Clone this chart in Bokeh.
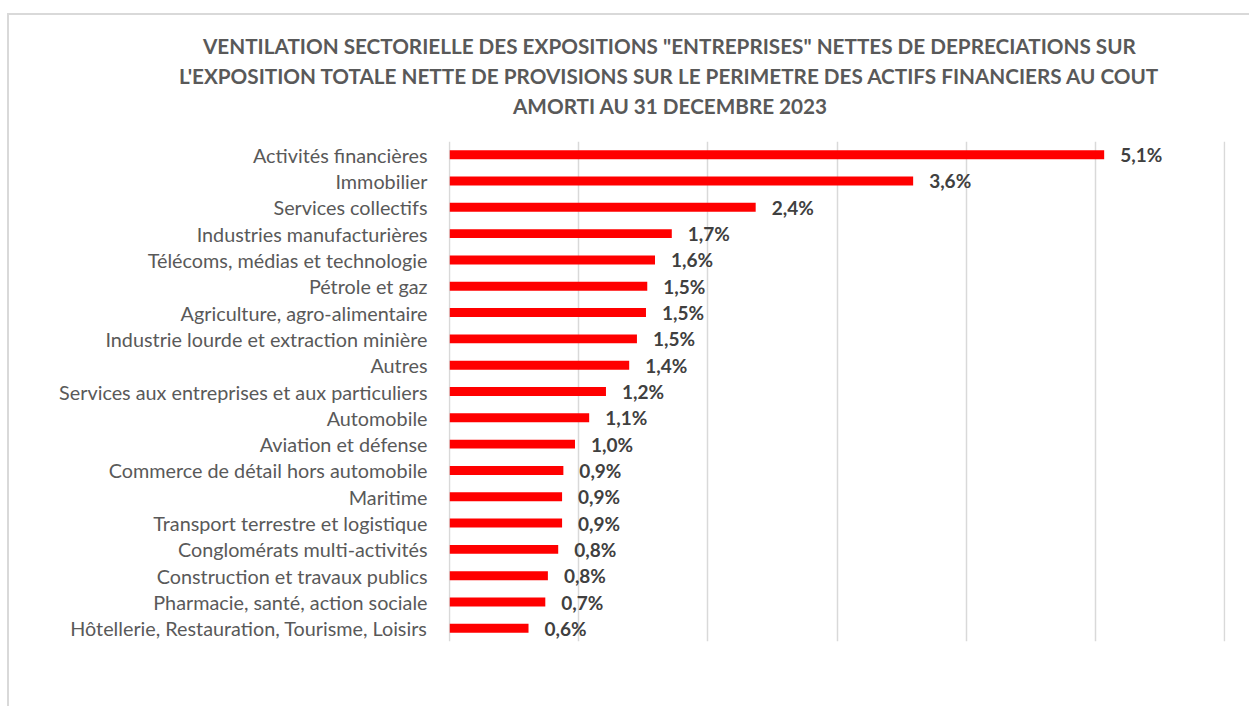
from bokeh.plotting import figure
from bokeh.models import FactorRange, Range1d, FixedTicker, Title, ColumnDataSource
from bokeh.core.properties import value
from bokeh.embed import file_html
from bokeh.resources import INLINE

categories = [
    "Activités financières",
    "Immobilier",
    "Services collectifs",
    "Industries manufacturières",
    "Télécoms, médias et technologie",
    "Pétrole et gaz",
    "Agriculture, agro-alimentaire",
    "Industrie lourde et extraction minière",
    "Autres",
    "Services aux entreprises et aux particuliers",
    "Automobile",
    "Aviation et défense",
    "Commerce de détail hors automobile",
    "Maritime",
    "Transport terrestre et logistique",
    "Conglomérats multi-activités",
    "Construction et travaux publics",
    "Pharmacie, santé, action sociale",
    "Hôtellerie, Restauration, Tourisme, Loisirs",
]
values = [5.07, 3.59, 2.37, 1.72, 1.59, 1.53, 1.52, 1.45, 1.39, 1.21,
          1.08, 0.97, 0.88, 0.87, 0.87, 0.84, 0.76, 0.74, 0.61]
value_labels = ["5,1%", "3,6%", "2,4%", "1,7%", "1,6%", "1,5%", "1,5%", "1,5%",
                "1,4%", "1,2%", "1,1%", "1,0%", "0,9%", "0,9%", "0,9%", "0,8%",
                "0,8%", "0,7%", "0,6%"]
x_ticks = [0, 1, 2, 3, 4, 5, 6]
title_lines = [
    "VENTILATION SECTORIELLE DES EXPOSITIONS \"ENTREPRISES\" NETTES DE DEPRECIATIONS SUR",
    "L'EXPOSITION TOTALE NETTE DE PROVISIONS SUR LE PERIMETRE DES ACTIFS FINANCIERS AU COUT",
    "AMORTI AU 31 DECEMBRE 2023",
]
# horizontal shift of each title line from the plot-frame's left edge (px)
title_offsets = [-245.5, -269.5, 64.5]

source = ColumnDataSource(dict(cat=categories, val=values, lab=value_labels))

p = figure(
    width=1242, height=693,
    y_range=FactorRange(factors=categories[::-1]),
    x_range=Range1d(-0.01, 6.01),
    output_backend="svg", toolbar_location=None,
    min_border_left=439, min_border_right=26,
    min_border_top=126, min_border_bottom=67,
)
p.styles = {
    "margin-left": "7px",
    "margin-top": "13px",
    "border-left": "2px solid #d9d9d9",
    "border-top": "2px solid #d9d9d9",
}
p.outline_line_color = None
p.hbar(y="cat", right="val", left=0, height=0.34, source=source,
       fill_color="#FF0000", line_color=None)
p.text(x="val", y="cat", text="lab", source=source, x_offset=16,
       text_baseline="middle", text_align="left",
       text_font=value("Lato"), text_font_style="bold",
       text_font_size="19px", text_color="#404040")

p.xaxis.visible = False
p.xgrid.ticker = FixedTicker(ticks=x_ticks)
p.xgrid.grid_line_color = "#d9d9d9"
p.xgrid.grid_line_width = 1.5
p.ygrid.grid_line_color = None

ax = p.yaxis[0]
ax.axis_line_color = None
ax.major_tick_line_color = None
ax.minor_tick_line_color = None
ax.major_tick_out = 0
ax.major_label_standoff = 21
ax.major_label_text_font = "Lato"
ax.major_label_text_font_size = "19.8px"
ax.major_label_text_color = "#595959"

# spacer between the title block and the plot frame
p.add_layout(Title(text=" ", text_font_size="10px", standoff=9), "above")
for line, off in zip(reversed(title_lines), reversed(title_offsets)):
    p.add_layout(Title(text=line, align="left", offset=off, text_font="Lato",
                       text_font_style="bold", text_font_size="20.7px",
                       text_color="#595959", standoff=3.5), "above")

open("out.html", "w").write(file_html(p, INLINE))
